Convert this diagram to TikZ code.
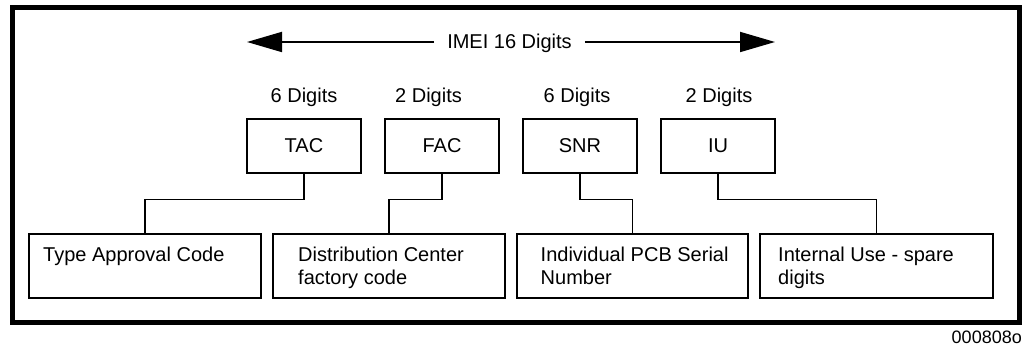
\documentclass[tikz,border=0pt]{standalone}
\usepackage{fontspec}
\setmainfont{Liberation Sans}
\usetikzlibrary{arrows.meta}
\begin{document}
\begin{tikzpicture}[x=1pt,y=-1pt,
  every node/.style={font=\fontsize{20}{23}\selectfont},
  topbox/.style={draw,line width=1.8pt,minimum width=114pt,minimum height=54pt,inner sep=0pt},
  descbox/.style={draw,line width=1.8pt,minimum height=64pt,inner sep=0pt},
  desctext/.style={anchor=north west,inner sep=0pt,align=left},
  digits/.style={anchor=base,inner sep=0pt},
  conn/.style={line width=1.8pt},
  bigarrow/.style={line width=1.8pt,-{Triangle[length=35pt,width=20pt]}}]
\useasboundingbox (0,0) rectangle (1023,347);
% outer frame
\draw[line width=5.5pt] (12.5,7.5) rectangle (1019.5,322.5);
% IMEI arrow
\coordinate (L) at (247,42);
\coordinate (R) at (775,42);
\node[anchor=base,inner ysep=0pt,inner xsep=13pt] (imei) at (509.5,48.5) {IMEI 16 Digits};
\draw[bigarrow] (imei.west |- L) -- (L);
\draw[bigarrow] (imei.east |- R) -- (R);
% digit labels
\node[digits] (d1) at (304,103) {6 Digits};
\node[digits] (d2) at (428.5,103) {2 Digits};
\node[digits] (d3) at (577,103) {6 Digits};
\node[digits] (d4) at (719,103) {2 Digits};
% top boxes
\node[topbox] (tac) at (304,146) {TAC};
\node[topbox] (fac) at (442,146) {FAC};
\node[topbox] (snr) at (580,146) {SNR};
\node[topbox] (iu) at (718,146) {IU};
% description boxes
\node[descbox,minimum width=232pt] (type) at (145,266) {};
\node[descbox,minimum width=232pt] (dist) at (389,266) {};
\node[descbox,minimum width=231pt] (indiv) at (632.5,266) {};
\node[descbox,minimum width=233pt] (inter) at (876.5,266) {};
\node[desctext] (ttype) at (43,247) {Type Approval Code};
\node[desctext] (tdist) at (298,247) {Distribution Center\\factory code};
\node[desctext] (tindiv) at (540.5,247) {Individual PCB Serial\\Number};
\node[desctext] (tinter) at (778,247) {Internal Use - spare\\digits};
% connectors
\coordinate (h) at (0,199.5);
\draw[conn] (tac.south) -- (tac.south |- h) -| (type.north);
\draw[conn] (fac.south) -- (fac.south |- h) -| (dist.north);
\draw[conn] (snr.south) -- (snr.south |- h) -| (indiv.north);
\draw[conn] (iu.south) -- (iu.south |- h) -| (inter.north);
% figure id
\node[anchor=base east,inner sep=0pt,font=\fontsize{18}{20}\selectfont] (fid) at (1022,344) {000808o};
\end{tikzpicture}
\end{document}
